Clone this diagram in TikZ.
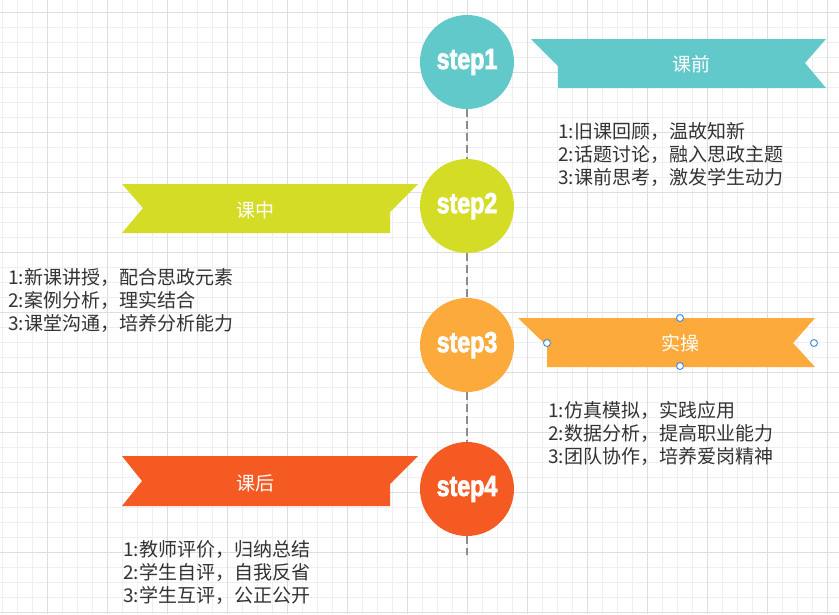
\documentclass[tikz,border=0pt]{standalone}
\usepackage{fontspec}
\setmainfont{Noto Sans CJK SC}
\newfontfamily\stepfont[FakeStretch=0.8,FakeBold=2.5]{Liberation Sans}
\usetikzlibrary{positioning,calc}

\definecolor{cteal}{HTML}{62C9CB}
\definecolor{cyellow}{HTML}{D5DC26}
\definecolor{corange}{HTML}{FBAA3B}
\definecolor{cred}{HTML}{F55A22}
\definecolor{txtgrey}{HTML}{333333}
\definecolor{linegrey}{HTML}{8C8C8C}
\definecolor{gridlight}{HTML}{EFEFEF}
\definecolor{griddark}{HTML}{DEDEDE}
\definecolor{handleblue}{HTML}{4A90D9}

\tikzset{
	stepnode/.style={circle, minimum size=94pt, inner sep=0pt, text=white,
		font=\stepfont\bfseries\fontsize{29}{29}\selectfont},
	ribbontext/.style={text=white, inner sep=0pt, font=\fontsize{19}{19}\selectfont},
	items/.style={align=left, anchor=west, inner sep=0pt, text=txtgrey,
		font=\fontsize{19}{23}\selectfont},
	gridminor/.style={draw=gridlight, line width=1pt},
	gridmajor/.style={draw=griddark, line width=1pt},
	handle/.style={circle, draw=handleblue, fill=white, line width=1pt,
		minimum size=7pt, inner sep=0pt},
	timeline/.style={draw=linegrey, line width=1.5pt, dash pattern=on 8pt off 4pt},
}

\begin{document}
\begin{tikzpicture}[x=1pt, y=-1pt]
	\useasboundingbox (0,0) rectangle (839,614);
	\fill[white] (0,0) rectangle (839,614);

	% background grid
	\foreach \gx in {2,17,...,839} \draw[gridminor] (\gx,0) -- (\gx,614);
	\foreach \gy in {12,27,...,614} \draw[gridminor] (0,\gy) -- (839,\gy);
	\foreach \gx in {47,107,...,839} \draw[gridmajor] (\gx,0) -- (\gx,614);
	\foreach \gy in {12,72,...,614} \draw[gridmajor] (0,\gy) -- (839,\gy);

	\begin{scope}
		% ribbons
		\fill[cteal] (531,39) -- (826,39) -- (805,63) -- (826,88) -- (558,88) -- (558,66) -- cycle;
		\fill[cyellow] (122,184) -- (418,184) -- (390,212) -- (390,233) -- (122,233) -- (143,208) -- cycle;
		\fill[corange] (518,318) -- (815,318) -- (793,343) -- (815,367) -- (547,367) -- (547,346) -- cycle;
		\fill[cred] (122,456) -- (418,456) -- (390,484) -- (390,506) -- (122,506) -- (142,481) -- cycle;

		\node[ribbontext] (kqian) at (691,64) {课前};
		\node[ribbontext] (kzhong) at (255,210) {课中};
		\node[ribbontext] (shicao) at (680,343) {实操};
		\node[ribbontext] (khou) at (255,483) {课后};

		% steps
		\node[stepnode, fill=cteal] (step1) at (467,62) {step1};
		\node[stepnode, fill=cyellow] (step2) at (467,206) {step2};
		\node[stepnode, fill=corange] (step3) at (467,345) {step3};
		\node[stepnode, fill=cred] (step4) at (467,489) {step4};
		\coordinate (lineend) at (467,555);

		\draw[timeline] (step1) -- (step2);
		\draw[timeline] (step2) -- (step3);
		\draw[timeline] (step3) -- (step4);
		\draw[timeline] (step4) -- (lineend);

		% item lists
		\node[items] (list1) at (558,154) {1:旧课回顾，温故知新\\2:话题讨论，融入思政主题\\3:课前思考，激发学生动力};
		\node[items] (list2) at (8,300) {1:新课讲授，配合思政元素\\2:案例分析，理实结合\\3:课堂沟通，培养分析能力};
		\node[items] (list3) at (548,433) {1:仿真模拟，实践应用\\2:数据分析，提高职业能力\\3:团队协作，培养爱岗精神};
		\node[items] (list4) at (123,573) {1:教师评价，归纳总结\\2:学生自评，自我反省\\3:学生互评，公正公开};

		% selection handles
		\node[handle] (hw) at (547,343) {};
		\node[handle] (hn) at (680,318) {};
		\node[handle] (hs) at (680,366) {};
		\node[handle] (he) at (814,343) {};
	\end{scope}
\end{tikzpicture}
\end{document}
